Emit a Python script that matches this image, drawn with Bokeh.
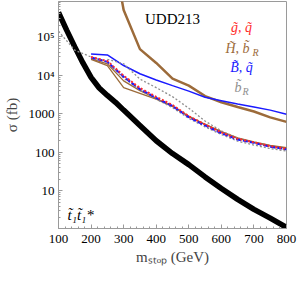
from bokeh.plotting import figure
from bokeh.models import FixedTicker, Label
from bokeh.embed import file_html
from bokeh.resources import INLINE

# ---- data ----
stop_mass = [100, 125, 150, 175, 200, 225, 250, 275, 300, 350, 400, 450, 500,
             550, 600, 650, 700, 750, 800]
stop_xsec = [4.3e5, 1.5e5, 5.5e4, 2.1e4, 8.9e3, 4.7e3, 3.0e3, 2.0e3, 1.25e3,
             500, 200, 93, 48, 23, 11.5, 6.0, 3.3, 1.95, 1.12]

mass_hb = [250, 300, 350, 400, 450, 500, 550, 600, 650, 700, 750, 800]
higgsino_thick = [1e8, 5e5, 4.8e4, 2.1e4, 8.2e3, 5.4e3, 2.9e3, 2.0e3, 1.5e3,
                  1.15e3, 810, 620]

mass_c = [200, 250, 300, 350, 400, 450, 500, 550, 600, 650, 700, 750, 800]
bino_solid = [3.6e4, 3.4e4, 1.8e4, 1.1e4, 7.6e3, 5.4e3, 3.9e3, 2.7e3, 2.2e3,
              1.8e3, 1.5e3, 1.25e3, 980]
gluino_dotted = [3.0e4, 2.35e4, 9.8e3, 4.7e3, 2.75e3, 1.7e3, 870, 530, 330,
                 225, 182, 145, 124]
bino_dashed = [2.9e4, 2.25e4, 9.2e3, 4.4e3, 2.6e3, 1.6e3, 820, 500, 315, 215,
               176, 140, 120]
higgsino_a = [2.6e4, 1.8e4, 4.8e3, 3.4e3, 2.4e3, 1.55e3, 850, 530, 345, 238,
              188, 152, 133]
higgsino_b = [2.7e4, 2.0e4, 7.2e3, 4.0e3, 2.5e3, 1.6e3, 860, 535, 340, 232,
              182, 148, 128]

mass_g = [100, 150, 200, 250, 300, 350, 400, 450, 500, 550, 600, 650, 700,
          750, 800]
sbottom_low = [1.4e5, 4.5e4, 3.0e4, 2.2e4, 8.5e3, 4.2e3, 2.4e3, 1.45e3, 760,
               460, 290, 195, 155, 125, 108]
mass_gu = [250, 300, 350, 400, 450, 500, 550, 600, 650, 700, 750, 800]
sbottom_up = [2.6e4, 2.0e4, 8.0e3, 4.8e3, 2.8e3, 1.4e3, 650, 360, 235, 175,
              138, 116]

x_ticks = [100, 200, 300, 400, 500, 600, 700, 800]
x_tick_labels = ["100", "200", "300", "400", "500", "600", "700", "800"]
y_ticks = [10, 100, 1000, 1e4, 1e5]
y_tick_labels = ["10", "100", "1000", "10⁴", "10⁵"]

BROWN = "#9c6b3a"
RED = "#ff2b2b"
BLUE = "#1a1aff"
GRAY = "#8e8e8e"
FONT = "Liberation Serif"
AXC = "#9a9a9a"

p = figure(frame_width=228, frame_height=227, x_range=(100, 800),
           y_range=(1.05, 8.3e5),
           y_axis_type="log", output_backend="svg", toolbar_location=None,
           min_border_left=51, min_border_right=12, min_border_top=1,
           min_border_bottom=40)
p.grid.visible = False
p.outline_line_color = AXC

x_minor = [m for m in range(100, 801, 20)]
y_minor = [m * 10 ** k for k in range(0, 6) for m in range(1, 10)]

def style(ax):
    ax.axis_line_color = AXC
    ax.major_tick_line_color = AXC
    ax.minor_tick_line_color = AXC
    ax.major_tick_in = 4
    ax.major_tick_out = 0
    ax.minor_tick_in = 2
    ax.minor_tick_out = 0
    ax.major_label_text_font = FONT
    ax.major_label_text_font_size = "13px"
    ax.major_label_text_color = "black"
    ax.axis_label_text_font = FONT
    ax.axis_label_text_font_style = "normal"
    ax.axis_label_text_font_size = "15px"

p.xaxis.ticker = FixedTicker(ticks=x_ticks, minor_ticks=x_minor)
p.yaxis.ticker = FixedTicker(ticks=y_ticks, minor_ticks=y_minor)
p.xaxis.major_label_overrides = {t: l for t, l in zip(x_ticks, x_tick_labels)}
p.yaxis.major_label_overrides = {t: l for t, l in zip(y_ticks, y_tick_labels)}
style(p.xaxis[0])
style(p.yaxis[0])
p.xaxis.axis_label = "mₛₜₒₚ (GeV)"
p.yaxis.axis_label = "σ (fb)"
p.xaxis.major_label_standoff = 6
p.xaxis.axis_label_standoff = 3
p.yaxis.major_label_standoff = 4
p.yaxis.axis_label_standoff = 6

# ---- curves ----
p.line(stop_mass, stop_xsec, line_color="black", line_width=5.5)
p.line(mass_hb, higgsino_thick, line_color=BROWN, line_width=2.5)
p.line(mass_c, bino_solid, line_color=BLUE, line_width=1.5)
p.line(mass_c, higgsino_a, line_color=BROWN, line_width=1.3)
p.line(mass_c, higgsino_b, line_color=BROWN, line_width=1.3)
p.line(mass_g, sbottom_low, line_color=GRAY, line_width=1.3, line_dash="2 2")
p.line(mass_gu, sbottom_up, line_color=GRAY, line_width=1.3, line_dash="2 2")
p.line(mass_c, bino_dashed, line_color=BLUE, line_width=2, line_dash="5 2")
p.line(mass_c, gluino_dotted, line_color=RED, line_width=2, line_dash="2 2")

# ---- annotations ----
def lab(x, y, text, color="black", size="13px", style="italic",
        align="left", base="middle"):
    p.add_layout(Label(x=x, y=y, x_units="screen", y_units="screen",
                       text=text, text_color=color, text_font=FONT,
                       text_font_size=size, text_font_style=style,
                       text_align=align, text_baseline=base))

# screen y is measured from the bottom of the frame (frame height 227)
H = 227
lab(114, H - 17, "UDD213", size="15px", style="normal", align="center")
lab(183, H - 26, "g̃, q̃", color=RED, size="14px", align="center")
lab(167, H - 47, "H̃, b̃", color=BROWN, size="14px")
lab(194, H - 51, "R", color=BROWN, size="10px")
lab(183, H - 66, "B̃, q̃", color=BLUE, size="14px", align="center")
lab(176, H - 86, "b̃", color=GRAY, size="14px")
lab(184, H - 90, "R", color=GRAY, size="10px")
lab(9, H - 213, "t̃₁t̃₁*", size="15px")

open("out.html", "w").write(file_html(p, INLINE))
